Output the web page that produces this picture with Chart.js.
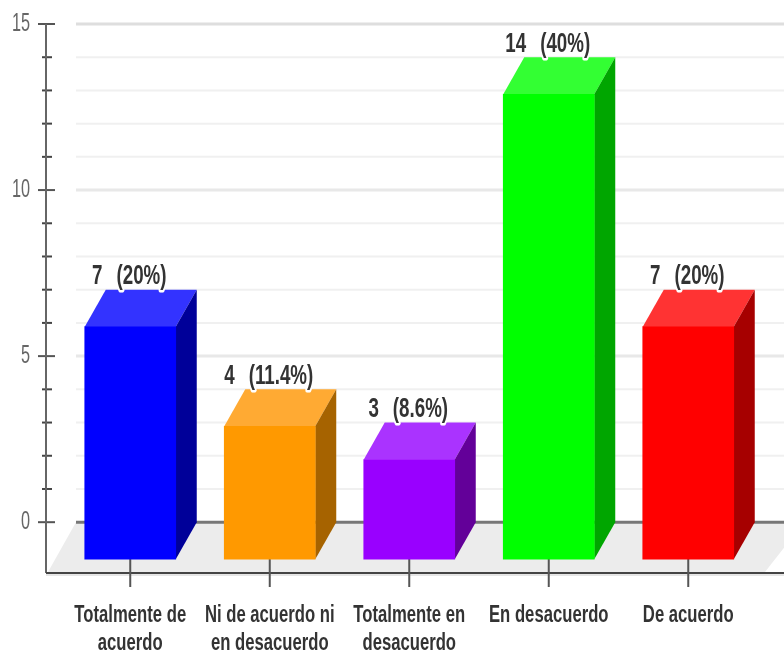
<!DOCTYPE html>
<html>
<head>
<meta charset="utf-8">
<title>Chart</title>
<script src="https://cdn.jsdelivr.net/npm/chart.js@4"></script>
<style>
  html, body { margin: 0; padding: 0; background: #fff; }
  canvas { display: block; filter: blur(0.6px); }
</style>
</head>
<body>
<canvas id="chart" width="784" height="654"></canvas>
<script>
const categories = [
    ['Totalmente de', 'acuerdo'],
    ['Ni de acuerdo ni', 'en desacuerdo'],
    ['Totalmente en', 'desacuerdo'],
    ['En desacuerdo'],
    ['De acuerdo']
];
const values = [7, 4, 3, 14, 7];
const percents = ['(20%)', '(11.4%)', '(8.6%)', '(40%)', '(20%)'];
const yMajorTicks = [0, 5, 10, 15];
const yMinorTicks = [1, 2, 3, 4, 6, 7, 8, 9, 11, 12, 13, 14];

const frontColors = ['#0000ff', '#ff9900', '#9900ff', '#00ff00', '#ff0000'];
const topColors = ['#3333ff', '#ffaa33', '#aa33ff', '#33ff33', '#ff3333'];
const sideColors = ['#000099', '#a66300', '#630099', '#00a600', '#a60000'];

const depthX = 21; // how far the back of a bar sits to the right
const depthY = 37; // and how far up

function line(ctx, x1, y1, x2, y2, color, width) {
    ctx.strokeStyle = color;
    ctx.lineWidth = width;
    ctx.beginPath();
    ctx.moveTo(x1, y1);
    ctx.lineTo(x2, y2);
    ctx.stroke();
}

function poly(ctx, points, color) {
    ctx.fillStyle = color;
    ctx.beginPath();
    points.forEach((p, i) => i ? ctx.lineTo(p[0], p[1]) : ctx.moveTo(p[0], p[1]));
    ctx.closePath();
    ctx.fill();
}

// The reference uses a squeezed typeface, no narrow font is installed so squeeze it here
function squeezedText(ctx, text, x, y, squeeze, halo) {
    ctx.save();
    ctx.translate(x, y);
    ctx.scale(squeeze, 1);
    if (halo) {
        ctx.strokeStyle = '#fff';
        ctx.lineWidth = 5;
        ctx.lineJoin = 'round';
        ctx.strokeText(text, 0, 0);
    }
    ctx.fillText(text, 0, 0);
    ctx.restore();
}

// Floor, grid, axes and the top and side faces of the bars.
// The real bar elements are the front faces, moved down by the depth.
const box3d = {
    id: 'box3d',
    beforeDatasetsDraw(chart) {
        const ctx = chart.ctx;
        const y = chart.scales.y;
        const x = chart.scales.x;
        const zero = y.getPixelForValue(0);
        const axisX = 46;
        const gridX = 76;
        const bottom = chart.chartArea.bottom;
        const right = chart.width;

        poly(ctx, [[gridX, zero], [right + 20, zero], [765, bottom], [48, bottom]], '#ececec');

        yMinorTicks.forEach(v => {
            const py = y.getPixelForValue(v);
            line(ctx, gridX, py, right, py, '#f0f0f0', 2);
            line(ctx, 42, py, 52, py, '#444', 2);
        });
        yMajorTicks.forEach(v => {
            const py = y.getPixelForValue(v);
            if (v === 0) {
                line(ctx, gridX, py, right, py, '#777', 3);
            } else {
                line(ctx, gridX, py, right, py, v === 15 ? '#dedede' : '#e8e8e8', 3);
            }
            line(ctx, 38, py, 55, py, '#555', 2);
        });

        line(ctx, axisX, y.getPixelForValue(15), axisX, bottom + 1, '#666', 2);
        line(ctx, axisX, bottom + 1, right, bottom + 1, '#444', 2);
        line(ctx, axisX, bottom + 3, right, bottom + 3, '#ccc', 1);

        categories.forEach((c, i) => {
            const px = x.getPixelForValue(i);
            line(ctx, px, zero + depthY - 1, px, bottom + 15, '#555', 2);
        });

        const bars = chart.getDatasetMeta(0).data;
        bars.forEach((bar, i) => {
            const l = bar.x - bar.width / 2;
            const r = bar.x + bar.width / 2;
            const t = bar.y + depthY;
            const b = bar.base + depthY;
            poly(ctx, [[l, t], [l + depthX, t - depthY], [r + depthX, t - depthY], [r, t]], topColors[i]);
            poly(ctx, [[r, t], [r + depthX, t - depthY], [r + depthX, b - depthY], [r, b]], sideColors[i]);
        });

        ctx.save();
        ctx.translate(0, depthY);
    },
    afterDatasetsDraw(chart) {
        const ctx = chart.ctx;
        ctx.restore();

        const bars = chart.getDatasetMeta(0).data;
        const x = chart.scales.x;
        const y = chart.scales.y;

        ctx.save();
        ctx.textBaseline = 'middle';
        ctx.textAlign = 'left';

        // value and percent labels with a white halo
        const squeeze = 0.67;
        ctx.font = 'bold 28px "Liberation Sans"';
        ctx.fillStyle = '#333';
        bars.forEach((bar, i) => {
            const first = String(values[i]);
            const gap = 14;
            const w1 = ctx.measureText(first).width * squeeze;
            const w2 = ctx.measureText(percents[i]).width * squeeze;
            const startX = bar.x - 1 - (w1 + gap + w2) / 2;
            const py = bar.y - 13;
            squeezedText(ctx, first, startX, py, squeeze, true);
            squeezedText(ctx, percents[i], startX + w1 + gap, py, squeeze, true);
        });

        // category labels under the axis
        ctx.textAlign = 'center';
        ctx.font = 'bold 23px "Liberation Sans"';
        categories.forEach((lines, i) => {
            lines.forEach((text, j) => {
                squeezedText(ctx, text, x.getPixelForValue(i), 616 + j * 28, 0.725, false);
            });
        });

        // value labels on the left axis
        ctx.textAlign = 'right';
        ctx.font = '25px "Liberation Sans"';
        ctx.fillStyle = '#666';
        yMajorTicks.forEach(v => {
            squeezedText(ctx, String(v), 30, y.getPixelForValue(v), 0.65, false);
        });
        ctx.restore();
    }
};

new Chart(document.getElementById('chart'), {
    type: 'bar',
    data: {
        labels: categories,
        datasets: [{
            data: values,
            backgroundColor: frontColors,
            barThickness: 91,
            borderWidth: 0
        }]
    },
    options: {
        responsive: false,
        animation: false,
        layout: {
            autoPadding: false,
            padding: { top: 24, right: 26, bottom: 0, left: 0 }
        },
        plugins: {
            legend: { display: false },
            tooltip: { enabled: false }
        },
        scales: {
            x: {
                grid: { display: false, drawTicks: false },
                border: { display: false },
                ticks: { display: false },
                afterFit(scale) { scale.height = 82; }
            },
            y: {
                min: -1.5,
                max: 15,
                grid: { display: false, drawTicks: false },
                border: { display: false },
                ticks: { display: false },
                afterFit(scale) { scale.width = 60.5; }
            }
        }
    },
    plugins: [box3d]
});
</script>
</body>
</html>
